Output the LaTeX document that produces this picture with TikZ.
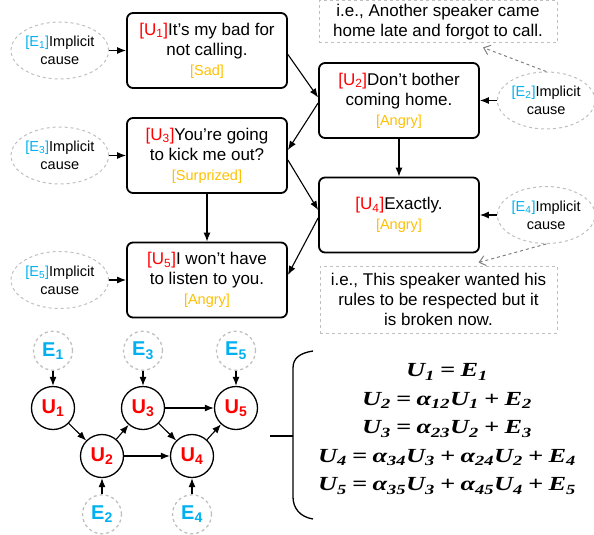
\documentclass[tikz,border=0pt]{standalone}
\usepackage{fontspec}
\setmainfont{Liberation Sans}
\newfontfamily\eqfont[FakeStretch=1.32, WordSpace=0.8]{Liberation Serif}
\usepackage{xcolor}
\usetikzlibrary{arrows.meta, positioning, shapes.geometric}

\definecolor{ured}{HTML}{FF0000}
\definecolor{eblue}{HTML}{00B0F0}
\definecolor{emoorange}{HTML}{FFC000}
\definecolor{dashgray}{HTML}{BFBFBF}

\newcommand{\ulab}[1]{{\color{ured}[U\textsubscript{#1}]}}
\newcommand{\elab}[1]{{\color{eblue}[E\textsubscript{#1}]}}
\newcommand{\emo}[1]{{\fontsize{14.5}{17}\selectfont\color{emoorange}[#1]}}

\begin{document}
\begin{tikzpicture}[
    x=1pt, y=-1pt,
    utt/.style={rectangle, draw, line width=1.8pt, rounded corners=6pt, minimum width=160pt, minimum height=75pt, inner sep=2pt, align=center, font=\fontsize{17}{20}\selectfont},
    cause/.style={ellipse, draw=dashgray, dashed, line width=1pt, minimum width=97pt, minimum height=57pt, inner sep=0pt, align=center, font=\fontsize{14.5}{18}\selectfont},
    note/.style={rectangle, draw=dashgray, dashed, line width=1pt, inner sep=0pt, align=center, font=\fontsize{17}{20}\selectfont},
    arrow/.style={-{Latex[length=9pt,width=7pt]}, line width=1.1pt},
    hint/.style={-{Straight Barb[length=6pt,width=10pt]}, dashed, draw=gray, line width=1pt},
    unode/.style={circle, draw, line width=1.3pt, minimum size=43pt, inner sep=0pt, font=\fontsize{20}{20}\selectfont\bfseries, text=ured},
    enode/.style={circle, draw=dashgray, dashed, line width=1.3pt, minimum size=39pt, inner sep=0pt, font=\fontsize{20}{20}\selectfont\bfseries, text=eblue}
]
\useasboundingbox (0,0) rectangle (594,535);

% Utterances
\node[utt] (u1) at (207,50.5) {\ulab{1}It's my bad for\\not calling.\\\emo{Sad}};
\node[utt] (u2) at (399,100.5) {\ulab{2}Don't bother\\coming home.\\\emo{Angry}};
\node[utt] (u3) at (207,155.5) {\ulab{3}You're going\\to kick me out?\\\emo{Surprized}};
\node[utt] (u4) at (399,215) {\ulab{4}Exactly.\\\emo{Angry}};
\node[utt] (u5) at (207,280) {\ulab{5}I won't have\\to listen to you.\\\emo{Angry}};

% Implicit causes
\node[cause, left=17pt of u1] (e1) {\elab{1}Implicit\\cause};
\node[cause, right=17pt of u2] (e2) {\elab{2}Implicit\\cause};
\node[cause, left=17pt of u3] (e3) {\elab{3}Implicit\\cause};
\node[cause, right=17pt of u4] (e4) {\elab{4}Implicit\\cause};
\node[cause, left=17pt of u5] (e5) {\elab{5}Implicit\\cause};

% Notes
\node[note, minimum width=238pt, minimum height=42pt] (n2) at (438,22) {i.e., Another speaker came\\home late and forgot to call.};
\node[note, minimum width=237pt, minimum height=67pt] (n4) at (438.5,299.5) {i.e., This speaker wanted his\\rules to be respected but it\\is broken now.};

% Arrows
\foreach \e/\u in {e1/u1, e2/u2, e3/u3, e4/u4, e5/u5}
    \draw[arrow] (\e) -- (\u);
\draw[arrow] ([yshift=-4pt]u1.east) -- ([yshift=3pt]u2.west);
\draw[arrow] ([yshift=-2.5pt]u2.west) -- ([yshift=5.5pt]u3.east);
\draw[arrow] ([yshift=-4.5pt]u3.east) -- ([yshift=5pt]u4.west);
\draw[arrow] ([yshift=-3pt]u4.west) -- ([yshift=5pt]u5.east);
\draw[arrow] (u3) -- (u5);
\draw[arrow] (u2) -- (u4);
\draw[hint] (e2.north) -- ([xshift=45pt,yshift=-4pt]n2.south);
\draw[hint] (e4.south) -- ([xshift=40pt,yshift=3pt]n4.north);

% Causal graph
\node[unode] (cu1) at (53,408) {U\textsubscript{1}};
\node[unode] (cu2) at (102,456) {U\textsubscript{2}};
\node[unode] (cu3) at (143,408) {U\textsubscript{3}};
\node[unode] (cu4) at (192,456) {U\textsubscript{4}};
\node[unode] (cu5) at (236,408) {U\textsubscript{5}};
\node[enode, above=15pt of cu1] (ce1) {E\textsubscript{1}};
\node[enode, below=16pt of cu2] (ce2) {E\textsubscript{2}};
\node[enode, above=15pt of cu3] (ce3) {E\textsubscript{3}};
\node[enode, below=16pt of cu4] (ce4) {E\textsubscript{4}};
\node[enode, above=15pt of cu5] (ce5) {E\textsubscript{5}};

\foreach \a/\b in {ce1/cu1, ce2/cu2, ce3/cu3, ce4/cu4, ce5/cu5, cu1/cu2, cu2/cu3, cu2/cu4, cu3/cu4, cu3/cu5, cu4/cu5}
    \draw[arrow] (\a) -- (\b);

% Equations
\draw[line width=1.3pt] (313,351) .. controls (300,353) and (293,358) .. (293,368) -- (293,497) .. controls (293,508) and (300,517) .. (313,519);
\draw[line width=1.3pt] (270,436) -- (293,436);
\node[align=center, font=\eqfont\fontsize{20}{28.5}\selectfont\bfseries\itshape] (eqs) at (447,429) {U\textsubscript{1} = E\textsubscript{1}\\
U\textsubscript{2} = α\textsubscript{12}U\textsubscript{1} + E\textsubscript{2}\\
U\textsubscript{3} = α\textsubscript{23}U\textsubscript{2} + E\textsubscript{3}\\
U\textsubscript{4} = α\textsubscript{34}U\textsubscript{3} + α\textsubscript{24}U\textsubscript{2} + E\textsubscript{4}\\
U\textsubscript{5} = α\textsubscript{35}U\textsubscript{3} + α\textsubscript{45}U\textsubscript{4} + E\textsubscript{5}};

\end{tikzpicture}
\end{document}
